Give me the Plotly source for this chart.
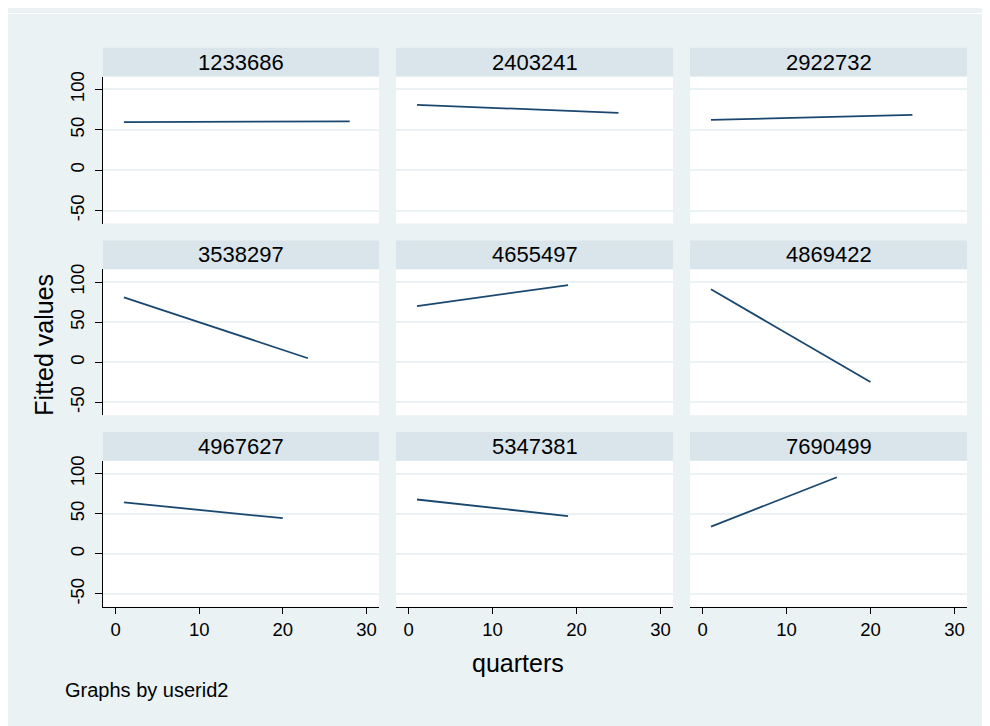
import plotly.graph_objects as go

# ---- data ----
panel_ids = ["1233686", "2403241", "2922732",
             "3538297", "4655497", "4869422",
             "4967627", "5347381", "7690499"]
quarters_start = [1, 1, 1, 1, 1, 1, 1, 1, 1]
quarters_end = [28, 25, 25, 23, 19, 20, 20, 19, 16]
fitted_start = [59.5, 81.0, 62.3, 81.0, 70.0, 91.0, 64.2, 67.8, 34.0]
fitted_end = [60.6, 71.0, 68.5, 5.0, 96.2, -24.7, 44.5, 47.2, 95.6]
y_ticks = [-50, 0, 50, 100]
y_tick_labels = ["-50", "0", "50", "100"]
x_ticks = [0, 10, 20, 30]

# ---- style / layout ----
W, H = 982, 718
OFF = 8  # page body margin offset
FONT = "Liberation Sans, Arial, sans-serif"
BG = "#EAF2F3"
STRIP = "#D9E5EB"
LINE = "#1A476F"

col_px = [(103, 379), (396, 673), (690, 967)]
row_px = [(72, 220), (266, 413), (459, 606)]
strip_h = 29

def px_x(p):
    return (p - OFF) / W

def px_y(p):
    return 1 - (p - OFF) / H

fig = go.Figure()
shapes = []
annotations = []

# white top strip (reference background starts one pixel lower)
shapes.append(dict(type="rect", xref="paper", yref="paper",
                   x0=0, x1=1, y0=px_y(9), y1=1,
                   fillcolor="white", line=dict(width=0), layer="below"))

for i, pid in enumerate(panel_ids):
    r, c = divmod(i, 3)
    n = i + 1
    xa = "x" if n == 1 else f"x{n}"
    ya = "y" if n == 1 else f"y{n}"
    fig.add_trace(go.Scatter(
        x=[quarters_start[i], quarters_end[i]],
        y=[fitted_start[i], fitted_end[i]],
        mode="lines", line=dict(color=LINE, width=1.8),
        xaxis=xa, yaxis=ya, showlegend=False, hoverinfo="skip"))

    (x0, x1), (y0, y1) = col_px[c], row_px[r]
    shapes.append(dict(type="rect", xref="paper", yref="paper",
                       x0=px_x(x0), x1=px_x(x1), y0=px_y(y1), y1=px_y(y0),
                       fillcolor="white", line=dict(width=0), layer="below"))
    shapes.append(dict(type="rect", xref="paper", yref="paper",
                       x0=px_x(x0), x1=px_x(x1), y0=px_y(y0), y1=px_y(y0 - strip_h),
                       fillcolor=STRIP, line=dict(width=0), layer="below"))
    annotations.append(dict(xref="paper", yref="paper",
                            x=px_x((x0 + x1) / 2), y=px_y(y0 - strip_h / 2),
                            text=pid, showarrow=False,
                            font=dict(family=FONT, size=22, color="black"),
                            xanchor="center", yanchor="middle"))

    xkey = "xaxis" if n == 1 else f"xaxis{n}"
    ykey = "yaxis" if n == 1 else f"yaxis{n}"
    bottom = (r == 2)
    left = (c == 0)
    fig.layout[xkey] = dict(
        domain=[px_x(x0), px_x(x1)], anchor=ya, range=[-1.5, 31.5],
        tickvals=x_ticks, showgrid=False, zeroline=False,
        showline=bottom, linecolor="black", linewidth=1,
        ticks="outside" if bottom else "", ticklen=6, tickcolor="black",
        showticklabels=bottom,
        tickfont=dict(family=FONT, size=18.5, color="black"))
    fig.layout[ykey] = dict(
        domain=[px_y(y1), px_y(y0)], anchor=xa, range=[-66, 116],
        tickvals=y_ticks, ticktext=y_tick_labels,
        showgrid=True, gridcolor=BG, gridwidth=2,
        zeroline=False, showline=left, linecolor="black", linewidth=1,
        ticks="outside" if left else "", ticklen=7, tickcolor="black",
        showticklabels=left, tickangle=-90, ticklabelstandoff=4,
        tickfont=dict(family=FONT, size=18.5, color="black"))

annotations.append(dict(xref="paper", yref="paper", x=px_x(517.5), y=px_y(663),
                        text="quarters", showarrow=False,
                        font=dict(family=FONT, size=25, color="black"),
                        xanchor="center", yanchor="middle"))
annotations.append(dict(xref="paper", yref="paper", x=px_x(44), y=px_y(342),
                        text="Fitted values", showarrow=False, textangle=-90,
                        font=dict(family=FONT, size=25, color="black"),
                        xanchor="center", yanchor="middle"))
annotations.append(dict(xref="paper", yref="paper", x=px_x(63), y=px_y(690),
                        text="Graphs by userid2", showarrow=False,
                        font=dict(family=FONT, size=20, color="black"),
                        xanchor="left", yanchor="middle"))

fig.update_layout(width=W, height=H, margin=dict(l=0, r=0, t=0, b=0),
                  paper_bgcolor=BG, plot_bgcolor="rgba(0,0,0,0)",
                  shapes=shapes, annotations=annotations,
                  font=dict(family=FONT))

fig.write_html("out.html", post_script="document.body.style.overflow='hidden';")
